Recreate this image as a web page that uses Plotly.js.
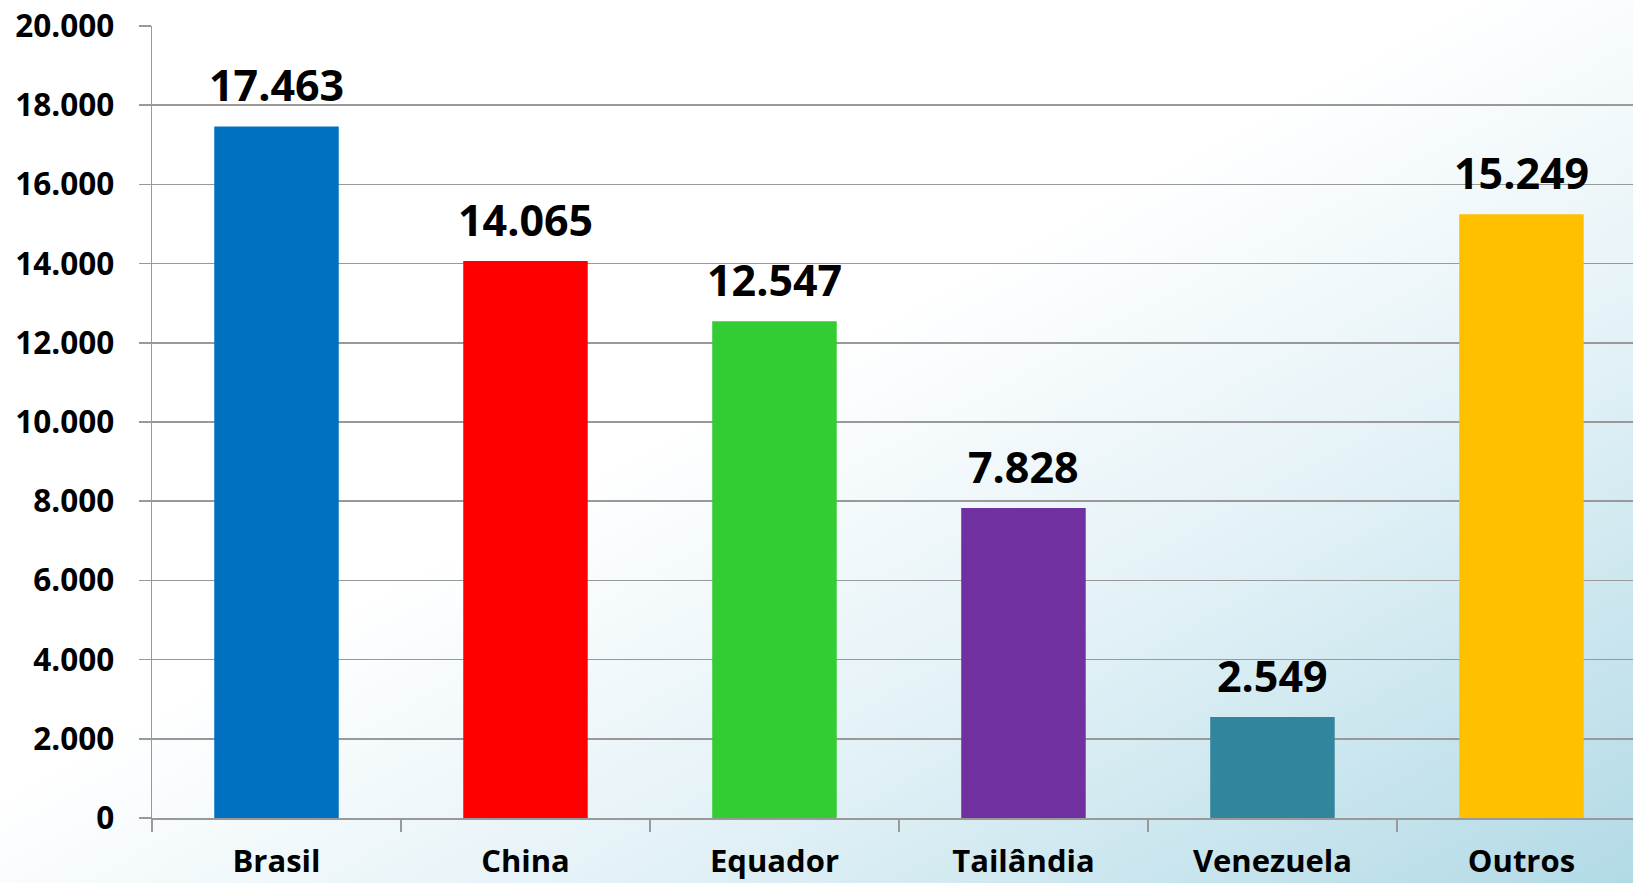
<!DOCTYPE html>
<html>
<head>
<meta charset="utf-8">
<script src="https://cdn.plot.ly/plotly-3.0.1.min.js"></script>
<style>
  html, body { margin: 0; padding: 0; }
  #chart {
    width: 1633px; height: 883px;
    background: linear-gradient(to bottom right, #ffffff 0%, #ffffff 45%, #e4f2f7 68%, #b2dae6 100%);
  }
</style>
</head>
<body>
<div id="chart"></div>
<script>
const categories = ["Brasil", "China", "Equador", "Tailândia", "Venezuela", "Outros"];
const values = [17463, 14065, 12547, 7828, 2549, 15249];
const valueLabels = ["17.463", "14.065", "12.547", "7.828", "2.549", "15.249"];
const barColors = ["#0070C0", "#FF0000", "#33CC33", "#7030A0", "#31859C", "#FFC000"];
const yTickVals = [0, 2000, 4000, 6000, 8000, 10000, 12000, 14000, 16000, 18000, 20000];
const yTickText = ["0", "2.000", "4.000", "6.000", "8.000", "10.000", "12.000", "14.000", "16.000", "18.000", "20.000"];

const FONT = "'Open Sans', 'DejaVu Sans', sans-serif";

const trace = {
  type: "bar",
  x: categories,
  y: values,
  marker: { color: barColors, line: { width: 0 } },
  width: 0.5,
  hoverinfo: "skip"
};

const annotations = categories.map((c, i) => ({
  x: c, y: values[i], xref: "x", yref: "y",
  text: valueLabels[i],
  showarrow: false,
  yanchor: "bottom",
  yshift: 10,
  font: { family: FONT, size: 43, color: "#000000", weight: 700 }
}));

const layout = {
  width: 1633, height: 883,
  margin: { l: 152, r: 0, t: 26, b: 65, pad: 0 },
  paper_bgcolor: "rgba(0,0,0,0)",
  plot_bgcolor: "rgba(0,0,0,0)",
  showlegend: false,
  xaxis: {
    type: "category",
    range: [-0.5, 5.448],
    showgrid: false,
    zeroline: false,
    showline: true, linecolor: "#999999", linewidth: 1.5,
    ticks: "outside", tickson: "boundaries", ticklen: 12, tickcolor: "#999999", tickwidth: 1.5,
    ticklabelstandoff: 15,
    tickfont: { family: FONT, size: 31, color: "#000000", weight: 700 },
    fixedrange: true
  },
  yaxis: {
    range: [0, 20000],
    tickvals: yTickVals,
    ticktext: yTickText,
    showgrid: true, gridcolor: "#999999", gridwidth: 1.5,
    zeroline: false,
    showline: true, linecolor: "#999999", linewidth: 1.5,
    ticks: "outside", ticklen: 12, tickcolor: "#999999", tickwidth: 1.5,
    ticklabelstandoff: 18,
    tickfont: { family: FONT, size: 31.5, color: "#000000", weight: 700 },
    fixedrange: true
  },
  annotations: annotations
};

Plotly.newPlot("chart", [trace], layout, { displayModeBar: false, staticPlot: true });
</script>
</body>
</html>
